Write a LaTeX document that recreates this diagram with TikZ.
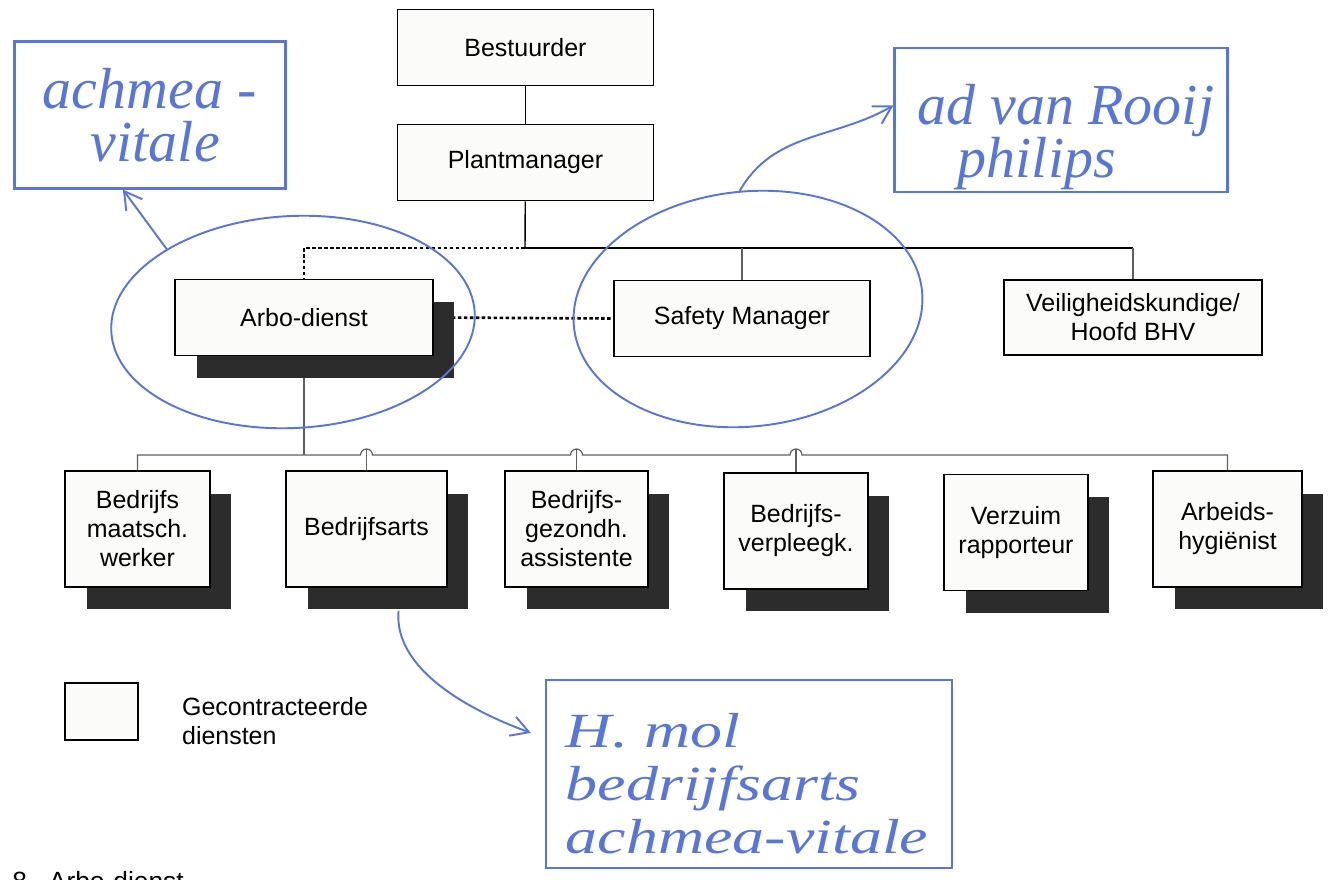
\documentclass[tikz,border=0pt]{standalone}
\usepackage{fontspec}
\usepackage{graphicx}
\setmainfont{Liberation Sans}
\newfontfamily\handfont{Liberation Serif}
\usetikzlibrary{positioning,arrows.meta,shapes.geometric,shadows,backgrounds,calc}
\definecolor{ink}{RGB}{88,118,218}
\definecolor{shade}{RGB}{44,44,44}
\definecolor{paper}{RGB}{251,251,249}
\definecolor{wire}{RGB}{95,95,95}

\begin{document}
\begin{tikzpicture}[x=0.02cm, y=-0.02cm,
  unit/.style={draw, line width=1.1pt, fill=paper, align=center, inner sep=2pt, font=\fontsize{14.2}{16.5}\selectfont},
  headbox/.style={unit, minimum width=5.12cm, minimum height=1.52cm},
  shd/.style={drop shadow={shadow xshift=0.43cm, shadow yshift=-0.45cm, fill=shade, opacity=1}},
  subbox/.style={unit, shd, minimum height=2.32cm},
  tie/.style={draw=wire, line width=0.7pt},
  boss/.style={line width=1.7pt},
  dotlink/.style={line width=1.5pt, dash pattern=on 2pt off 1.4pt},
  ring/.style={ellipse, draw=ink, line width=1.1pt},
  note/.style={draw=ink, line width=1.2pt},
  scrawl/.style={text=ink, font=\handfont\itshape\fontsize{33}{30}\selectfont, align=left},
  pen/.style={draw=ink, line width=1.1pt, -{Straight Barb[length=3.5mm, width=4mm]}}
]
\useasboundingbox (0,0) rectangle (1332,879);
\clip (0,0) rectangle (1332,879);
% top of the chart
\node[headbox] (best) at (525.5,47.5) {Bestuurder};
\node[headbox] (plant) at (525.5,162.5) {Plantmanager};
\coordinate (hub) at (525,248);
% second row
\node[headbox, shd, minimum width=5.16cm] (arbo) at (304,317.5) {Arbo-dienst};
\node[headbox] (safety) at (742,318.5) {Safety Manager};
\node[headbox, minimum width=5.16cm, minimum height=1.5cm] (veilig) at (1133,317.5) {Veiligheidskundige/\\Hoofd BHV};
% services row
\coordinate (bus) at (304,455);
\node[subbox, minimum width=2.9cm] (maat) at (137.5,529) {Bedrijfs\\maatsch.\\werker};
\node[subbox, minimum width=3.22cm] (arts) at (366.5,529) {Bedrijfsarts};
\node[subbox, minimum width=2.86cm] (assist) at (576.5,529) {Bedrijfs-\\gezondh.\\assistente};
\node[subbox, minimum width=2.88cm] (verpl) at (796,531) {Bedrijfs-\\verpleegk.};
\node[subbox, minimum width=2.88cm] (verzuim) at (1016,532.5) {Verzuim\\rapporteur};
\node[subbox, minimum width=2.98cm] (hyg) at (1227.5,529) {Arbeids-\\hygiënist};
% legend and caption
\node[unit, minimum width=1.46cm, minimum height=1.14cm] (key) at (101.5,711.5) {};
\node[right=0.74cm of key, yshift=-0.2cm, align=left, font=\fontsize{14.2}{16.5}\selectfont] (keytext) {Gecontracteerde\\diensten};
\node[anchor=north west, inner sep=0pt, font=\fontsize{15}{17}\selectfont] (caption) at (12,871) {8.~~Arbo-dienst};
% lines
\begin{scope}[on background layer]
\draw[line width=0.8pt] (best) -- (plant);
\draw[line width=0.8pt] (plant) -- (hub);
\draw[boss] (hub) -- (hub -| veilig.north);
\draw[tie] (hub -| veilig.north) -- (veilig.north);
\draw[tie] (hub -| safety.north) -- (safety.north);
\draw[dotlink] (hub) -| (arbo.north);
\draw[dotlink] (arbo.east) -- (safety.west);
\draw[tie] (arbo.south) -- (bus);
\draw[tie] (maat.north) -- (maat.north |- bus)
  \foreach \n in {arts,assist,verpl} { -- ($(\n.north |- bus)+(-1.2mm,0)$) arc[start angle=180, end angle=0, radius=1.2mm] }
  -- (hyg.north |- bus) -- (hyg.north);
\foreach \n in {arts,assist,verpl} \draw[tie] ($(\n.north |- bus)+(0,1.2mm)$) -- (\n.north);
\end{scope}
% pen notes
\node[ring, minimum width=7.28cm, minimum height=4.24cm, rotate=3] (ringA) at (293,322) {};
\node[ring, minimum width=7.0cm, minimum height=4.7cm, rotate=6] (ringB) at (748,309) {};
\node[note, scrawl, minimum width=5.42cm, minimum height=2.94cm] (achmea) at (150,115) {achmea -\\\hspace*{0.96cm}vitale};
\node[note, minimum width=6.66cm, minimum height=2.88cm] (rooij) at (1061,120) {};
\node[scrawl] (rooijtext) at (1066,137) {ad van Rooij\\\hspace*{0.8cm}philips};
\node[note, minimum width=8.12cm, minimum height=3.76cm] (mol) at (749,774) {};
\node[text=ink, inner sep=0pt] (moltext) at (747,790) {\scalebox{1.3}[1]{\handfont\itshape\fontsize{28}{30}\selectfont\begin{tabular}{@{}l@{}}H. mol\\bedrijfsarts\\achmea-vitale\end{tabular}}};
\draw[pen] (ringA.147) -- (achmea.-110);
\draw[pen] (ringB.88) to[out=60, in=210] (rooij.175);
\draw[pen, shorten <=0.46cm, shorten >=0.3cm] (arts.-60) to[out=-95, in=160] (mol.170);
\end{tikzpicture}
\end{document}
